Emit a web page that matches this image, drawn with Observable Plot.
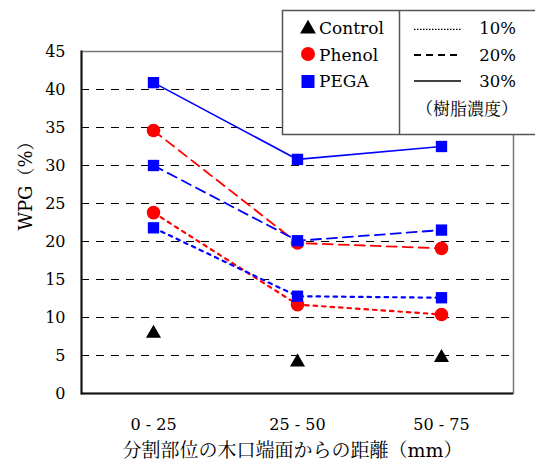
<!DOCTYPE html>
<html><head><meta charset="utf-8">
<script src="https://cdn.jsdelivr.net/npm/d3@7"></script>
<script src="https://cdn.jsdelivr.net/npm/@observablehq/plot@0.6"></script>
<style>
body{margin:0;background:#fff}
#chart{width:535px;height:461px}
#chart svg text{font-family:'DejaVu Serif','Noto Serif CJK JP',serif !important}
</style>
</head><body><div id="chart"></div>
<script>
const categories = ["0 - 25", "25 - 50", "50 - 75"];
const controlValues = [8.2, 4.4, 5.0];
const phenol10 = [23.8, 11.7, 10.4];
const phenol20 = [34.6, 19.8, 19.1];
const pega10 = [21.8, 12.8, 12.6];
const pega20 = [30.0, 20.1, 21.5];
const pega30 = [40.9, 30.8, 32.5];
const yTicks = [0, 5, 10, 15, 20, 25, 30, 35, 40, 45];
const gridValues = [5, 10, 15, 20, 25, 30, 35, 40];
const xTitle = "分割部位の木口端面からの距離（mm）";
const yTitle = "WPG（%）";
const agentNames = ["Control", "Phenol", "PEGA"];
const concNames = ["10%", "20%", "30%"];
const concNote = "（樹脂濃度）";

const FONT = "'DejaVu Serif', 'Noto Serif CJK JP', serif";
const agentStyle = {
  Control: {color: "#000000", symbol: "triangle", r: 5.6, dy: 2.2},
  Phenol: {color: "#ff0000", symbol: "circle", r: 6.8, dy: 0},
  PEGA: {color: "#0000ff", symbol: "square", r: 6.4, dy: 0}
};
const concStyle = {
  "10%": {dash: "3.5,5", width: 2.2},
  "20%": {dash: "10,6", width: 1.8},
  "30%": {dash: null, width: 1.6}
};

const series = [
  {agent: "Control", conc: null, values: controlValues},
  {agent: "Phenol", conc: "10%", values: phenol10},
  {agent: "Phenol", conc: "20%", values: phenol20},
  {agent: "PEGA", conc: "10%", values: pega10},
  {agent: "PEGA", conc: "20%", values: pega20},
  {agent: "PEGA", conc: "30%", values: pega30}
].map(s => ({...s, rows: categories.map((c, i) => ({cat: c, value: s.values[i]}))}));

const marks = [
  Plot.ruleY(gridValues, {stroke: "#000", strokeWidth: 1, strokeDasharray: "8,7"}),
  Plot.frame({stroke: "#777", strokeWidth: 1.5}),
  Plot.frame({anchor: "left", stroke: "#111", strokeWidth: 2}),
  Plot.ruleY([0], {stroke: "#111", strokeWidth: 2}),
  Plot.axisY(yTicks, {tickSize: 0, tickPadding: 16, fontSize: 16, label: null}),
  Plot.axisX({tickSize: 0, tickPadding: 25, fontSize: 16, label: null}),
  Plot.text([yTitle], {text: d => d, frameAnchor: "left", rotate: -90, dx: -55, dy: 8, fontSize: 18}),
  Plot.text([xTitle], {text: d => d, frameAnchor: "bottom", dy: 63, dx: -5, fontSize: 19})
];
for (const s of series) {
  if (!s.conc) continue;
  const cs = concStyle[s.conc];
  marks.push(Plot.line(s.rows, {x: "cat", y: "value", stroke: agentStyle[s.agent].color,
    strokeWidth: cs.width, strokeDasharray: cs.dash || undefined}));
}
for (const s of series) {
  const as = agentStyle[s.agent];
  marks.push(Plot.dot(s.rows, {x: "cat", y: "value", symbol: as.symbol, fill: as.color,
    stroke: "none", r: as.r, dy: as.dy}));
}

const plot = Plot.plot({
  width: 535, height: 461,
  marginLeft: 81, marginRight: 22, marginTop: 51, marginBottom: 68,
  style: {fontFamily: FONT, fontSize: "16px", background: "white", color: "black"},
  x: {type: "point", domain: categories, padding: 0.5},
  y: {domain: [0, 45]},
  marks
});
document.getElementById("chart").appendChild(plot);

// legend box (partly outside the frame, as in the original)
const svg = d3.select(plot);
const lg = svg.append("g").attr("font-family", FONT).attr("fill", "black").attr("text-anchor", "start");
lg.append("rect").attr("x", 282.5).attr("y", 10.5).attr("width", 270).attr("height", 124)
  .attr("fill", "white").attr("stroke", "#555").attr("stroke-width", 1.5);
lg.append("line").attr("x1", 399.5).attr("x2", 399.5).attr("y1", 10.5).attr("y2", 134.5)
  .attr("stroke", "#555").attr("stroke-width", 1.5);
const symTypes = {triangle: d3.symbolTriangle, circle: d3.symbolCircle, square: d3.symbolSquare};
const legSizes = {Control: 7.5 * 7.5 * Math.PI * 0.62, Phenol: 7 * 7 * Math.PI, PEGA: 13 * 13};
const rowSym = [27, 54, 81.5];
const rowBase = [34, 60.7, 87.3];
agentNames.forEach((a, i) => {
  const as = agentStyle[a];
  lg.append("path").attr("d", d3.symbol(symTypes[as.symbol], legSizes[a])())
    .attr("transform", `translate(308,${rowSym[i] + (a === "Control" ? 2 : 0)})`).attr("fill", as.color);
  lg.append("text").attr("x", 319).attr("y", rowBase[i]).attr("text-anchor", "start")
    .attr("font-size", 17).text(a);
});
const lineY = [29.3, 55, 81];
const legDash = {"10%": {dash: "1.5,1.5", w: 1.3}, "20%": {dash: "7,5", w: 2}, "30%": {dash: null, w: 1.6}};
concNames.forEach((c, i) => {
  const ld = legDash[c];
  const ln = lg.append("line").attr("x1", 414).attr("x2", 461).attr("y1", lineY[i]).attr("y2", lineY[i])
    .attr("stroke", "black").attr("stroke-width", ld.w);
  if (ld.dash) ln.attr("stroke-dasharray", ld.dash);
  lg.append("text").attr("x", 516).attr("y", rowBase[i]).attr("text-anchor", "end").attr("font-size", 16.5).text(c);
});
lg.append("text").attr("x", 518).attr("y", 115).attr("text-anchor", "end").attr("font-size", 17).text(concNote);
</script>
</body></html>
